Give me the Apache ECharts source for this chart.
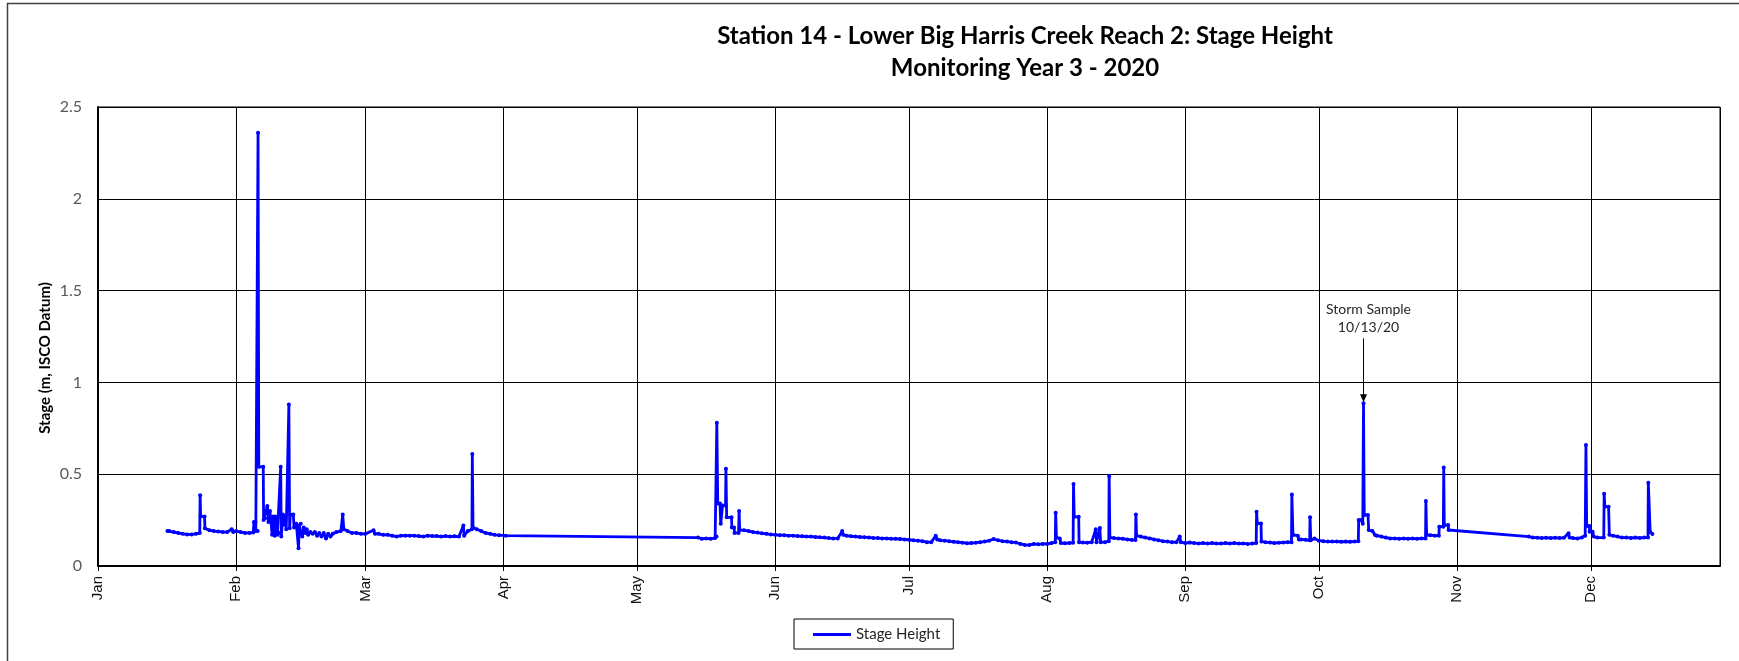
<!DOCTYPE html>
<html>
<head>
<meta charset="utf-8">
<script src="https://cdn.jsdelivr.net/npm/echarts@6/dist/echarts.min.js"></script>
<style>
  html, body { margin: 0; padding: 0; background: #fff; }
  #chart { width: 1739px; height: 661px; }
</style>
</head>
<body>
<div id="chart"></div>
<script>
// ---------- data (stage height, m) ----------
const monthNames = ['Jan','Feb','Mar','Apr','May','Jun','Jul','Aug','Sep','Oct','Nov','Dec'];
const yTicks = [0, 0.5, 1, 1.5, 2, 2.5];

const stageJan = [
  ['2020-01-16 14:00',0.19],['2020-01-17',0.19],['2020-01-18',0.185],['2020-01-19',0.18],
  ['2020-01-20',0.175],['2020-01-21',0.172],['2020-01-22',0.172],['2020-01-23',0.175],
  ['2020-01-23 20:00',0.18],['2020-01-23 22:00',0.385],['2020-01-24 01:00',0.27],['2020-01-24 22:00',0.27],
  ['2020-01-25 00:00',0.205],['2020-01-26',0.195],['2020-01-27',0.19],['2020-01-28',0.188],
  ['2020-01-29',0.185],['2020-01-30',0.185],['2020-01-31 00:00',0.2],['2020-01-31 08:00',0.185]
];
const stageFeb = [
  ['2020-02-01',0.19],['2020-02-02',0.185],['2020-02-03',0.18],['2020-02-04',0.18],
  ['2020-02-04 20:00',0.182],['2020-02-05 00:00',0.24],['2020-02-05 08:00',0.24],['2020-02-05 10:00',0.19],
  ['2020-02-05 20:00',0.19],['2020-02-05 22:00',2.36],['2020-02-06 02:00',0.54],['2020-02-07 02:00',0.54],
  ['2020-02-07 04:00',0.25],['2020-02-07 12:00',0.26],['2020-02-08 00:00',0.327],['2020-02-08 06:00',0.24],
  ['2020-02-08 14:00',0.3],['2020-02-09 02:00',0.17],['2020-02-09 08:00',0.27],['2020-02-09 16:00',0.165],
  ['2020-02-09 20:00',0.27],['2020-02-10 06:00',0.17],['2020-02-10 16:00',0.18],['2020-02-11 00:00',0.54],
  ['2020-02-11 03:00',0.16],['2020-02-11 12:00',0.28],['2020-02-11 18:00',0.225],['2020-02-12 00:00',0.27],
  ['2020-02-12 06:00',0.2],['2020-02-12 20:00',0.88],['2020-02-13 00:00',0.205],['2020-02-13 04:00',0.28],
  ['2020-02-13 20:00',0.28],['2020-02-14 00:00',0.21],['2020-02-14 12:00',0.23],['2020-02-15 00:00',0.096],
  ['2020-02-15 04:00',0.22],['2020-02-15 12:00',0.23],['2020-02-15 20:00',0.16],['2020-02-16 04:00',0.21],
  ['2020-02-16 12:00',0.18],['2020-02-16 20:00',0.2],['2020-02-17 04:00',0.17],['2020-02-17 16:00',0.185],
  ['2020-02-18 04:00',0.175],['2020-02-18 16:00',0.185],['2020-02-19 04:00',0.165],['2020-02-19 16:00',0.18],
  ['2020-02-20 04:00',0.16],['2020-02-20 16:00',0.18],['2020-02-21 04:00',0.15],['2020-02-21 16:00',0.175],
  ['2020-02-22 04:00',0.16],['2020-02-22 16:00',0.175],['2020-02-23 12:00',0.185],['2020-02-24 12:00',0.19],
  ['2020-02-24 22:00',0.28],['2020-02-25 04:00',0.2],['2020-02-26',0.19],['2020-02-27',0.18],
  ['2020-02-28',0.18],['2020-02-29',0.175]
];
const stageMar = [
  ['2020-03-01',0.175],['2020-03-02 20:00',0.195],['2020-03-03 04:00',0.175],['2020-03-04',0.175],
  ['2020-03-05',0.17],['2020-03-06',0.17],['2020-03-07',0.165],['2020-03-08',0.16],['2020-03-09',0.165],
  ['2020-03-10',0.165],['2020-03-11',0.165],['2020-03-12',0.165],['2020-03-13',0.163],['2020-03-14',0.16],
  ['2020-03-15',0.165],['2020-03-16',0.163],['2020-03-17',0.163],['2020-03-18',0.16],['2020-03-19',0.163],
  ['2020-03-20',0.16],['2020-03-21',0.162],['2020-03-22',0.16],['2020-03-23 00:00',0.22],['2020-03-23 04:00',0.165],
  ['2020-03-24',0.19],['2020-03-24 22:00',0.2],['2020-03-25 00:00',0.61],['2020-03-25 04:00',0.21],
  ['2020-03-26',0.2],['2020-03-27',0.19],['2020-03-28',0.18],['2020-03-29',0.175],['2020-03-30',0.17],
  ['2020-03-31',0.168],['2020-04-01 12:00',0.165]
];
const stageMay = [
  ['2020-05-14 16:00',0.155],['2020-05-15 12:00',0.148],['2020-05-16 12:00',0.15],['2020-05-17 12:00',0.148],
  ['2020-05-18 12:00',0.152],['2020-05-18 19:00',0.16],['2020-05-18 21:00',0.78],['2020-05-19 02:00',0.34],
  ['2020-05-19 14:00',0.34],['2020-05-19 18:00',0.23],['2020-05-20 04:00',0.33],['2020-05-20 20:00',0.33],
  ['2020-05-20 22:00',0.53],['2020-05-21 02:00',0.265],['2020-05-22 04:00',0.265],['2020-05-22 06:00',0.21],
  ['2020-05-22 18:00',0.21],['2020-05-22 20:00',0.18],['2020-05-23 18:00',0.18],['2020-05-23 21:00',0.3],
  ['2020-05-24 00:00',0.196],['2020-05-25',0.195],['2020-05-26',0.19],['2020-05-27',0.185],
  ['2020-05-28',0.182],['2020-05-29',0.178],['2020-05-30',0.175],['2020-05-31',0.172]
];
const stageJun = [
  ['2020-06-01',0.17],['2020-06-02',0.168],['2020-06-03',0.168],['2020-06-04',0.165],['2020-06-05',0.165],
  ['2020-06-06',0.163],['2020-06-07',0.162],['2020-06-08',0.16],['2020-06-09',0.16],['2020-06-10',0.158],
  ['2020-06-11',0.156],['2020-06-12',0.155],['2020-06-13',0.152],['2020-06-14',0.15],['2020-06-15',0.15],
  ['2020-06-16 00:00',0.19],['2020-06-16 06:00',0.17],['2020-06-17',0.165],['2020-06-18',0.162],
  ['2020-06-19',0.16],['2020-06-20',0.158],['2020-06-21',0.157],['2020-06-22',0.155],['2020-06-23',0.153],
  ['2020-06-24',0.152],['2020-06-25',0.15],['2020-06-26',0.15],['2020-06-27',0.148],['2020-06-28',0.148],
  ['2020-06-29',0.147],['2020-06-30',0.145]
];
const stageJul = [
  ['2020-07-01',0.143],['2020-07-02',0.14],['2020-07-03',0.138],['2020-07-04',0.135],['2020-07-05',0.13],
  ['2020-07-06',0.13],['2020-07-07 00:00',0.165],['2020-07-07 08:00',0.145],['2020-07-08',0.14],
  ['2020-07-09',0.138],['2020-07-10',0.135],['2020-07-11',0.132],['2020-07-12',0.13],['2020-07-13',0.127],
  ['2020-07-14',0.124],['2020-07-15',0.125],['2020-07-16',0.127],['2020-07-17',0.13],['2020-07-18',0.133],
  ['2020-07-19',0.138],['2020-07-20',0.147],['2020-07-21',0.14],['2020-07-22',0.135],['2020-07-23',0.133],
  ['2020-07-24',0.13],['2020-07-25',0.128],['2020-07-26',0.12],['2020-07-27',0.115],['2020-07-28',0.114],
  ['2020-07-29',0.12],['2020-07-30',0.118],['2020-07-31',0.12]
];
const stageAug = [
  ['2020-08-01',0.12],['2020-08-02',0.125],['2020-08-02 20:00',0.13],['2020-08-02 22:00',0.29],
  ['2020-08-03 02:00',0.155],['2020-08-03 20:00',0.15],['2020-08-04 02:00',0.125],['2020-08-05',0.124],
  ['2020-08-06',0.125],['2020-08-06 20:00',0.127],['2020-08-06 22:00',0.447],['2020-08-07 02:00',0.268],
  ['2020-08-08 02:00',0.268],['2020-08-08 04:00',0.13],['2020-08-09',0.128],['2020-08-10',0.127],
  ['2020-08-11',0.13],['2020-08-11 22:00',0.2],['2020-08-12 02:00',0.13],['2020-08-12 20:00',0.207],
  ['2020-08-13 00:00',0.13],['2020-08-14',0.13],['2020-08-14 20:00',0.135],['2020-08-14 22:00',0.49],
  ['2020-08-15 02:00',0.155],['2020-08-16',0.152],['2020-08-17',0.15],['2020-08-18',0.148],
  ['2020-08-19',0.145],['2020-08-20',0.142],['2020-08-20 20:00',0.142],['2020-08-20 22:00',0.28],
  ['2020-08-21 02:00',0.165],['2020-08-22',0.16],['2020-08-23',0.155],['2020-08-24',0.15],
  ['2020-08-25',0.145],['2020-08-26',0.14],['2020-08-27',0.135],['2020-08-28',0.133],['2020-08-29',0.13],
  ['2020-08-30',0.13],['2020-08-30 18:00',0.16],['2020-08-31 00:00',0.13]
];
const stageSep = [
  ['2020-09-01',0.125],['2020-09-02',0.128],['2020-09-03',0.125],['2020-09-04',0.123],['2020-09-05',0.125],
  ['2020-09-06',0.122],['2020-09-07',0.125],['2020-09-08',0.123],['2020-09-09',0.122],['2020-09-10',0.125],
  ['2020-09-11',0.123],['2020-09-12',0.125],['2020-09-13',0.122],['2020-09-14',0.123],['2020-09-15',0.12],
  ['2020-09-16',0.122],['2020-09-16 22:00',0.125],['2020-09-17 00:00',0.296],['2020-09-17 04:00',0.232],
  ['2020-09-18 00:00',0.232],['2020-09-18 02:00',0.133],['2020-09-19',0.13],['2020-09-20',0.128],
  ['2020-09-21',0.125],['2020-09-22',0.127],['2020-09-23',0.128],['2020-09-24',0.13],['2020-09-24 20:00',0.13],
  ['2020-09-24 22:00',0.39],['2020-09-25 04:00',0.169],['2020-09-26 06:00',0.165],['2020-09-26 12:00',0.145],
  ['2020-09-27',0.145],['2020-09-28',0.143],['2020-09-28 22:00',0.14],['2020-09-29 00:00',0.265],
  ['2020-09-29 04:00',0.14],['2020-09-30',0.15]
];
const stageOct = [
  ['2020-10-01',0.138],['2020-10-02',0.135],['2020-10-03',0.133],['2020-10-04',0.133],['2020-10-05',0.133],
  ['2020-10-06',0.132],['2020-10-07',0.133],['2020-10-08',0.132],['2020-10-09',0.133],['2020-10-09 20:00',0.135],
  ['2020-10-09 22:00',0.25],['2020-10-10 12:00',0.25],['2020-10-10 20:00',0.23],['2020-10-11 00:00',0.886],
  ['2020-10-11 04:00',0.278],['2020-10-12 00:00',0.278],['2020-10-12 04:00',0.196],['2020-10-13',0.19],
  ['2020-10-13 14:00',0.169],['2020-10-14',0.165],['2020-10-15',0.16],['2020-10-16',0.155],['2020-10-17',0.15],
  ['2020-10-18',0.15],['2020-10-19',0.148],['2020-10-20',0.15],['2020-10-21',0.148],['2020-10-22',0.15],
  ['2020-10-23',0.148],['2020-10-24',0.15],['2020-10-24 22:00',0.15],['2020-10-25 00:00',0.354],
  ['2020-10-25 04:00',0.169],['2020-10-26',0.168],['2020-10-27',0.165],['2020-10-27 22:00',0.165],
  ['2020-10-28 00:00',0.214],['2020-10-28 22:00',0.214],['2020-10-29 00:00',0.537],['2020-10-29 03:00',0.223],
  ['2020-10-30 00:00',0.223],['2020-10-30 02:00',0.196]
];
const stageNov = [
  ['2020-11-17 02:00',0.16],['2020-11-18',0.155],['2020-11-19',0.154],['2020-11-20',0.152],['2020-11-21',0.154],
  ['2020-11-22',0.152],['2020-11-23',0.154],['2020-11-24',0.152],['2020-11-25',0.154],['2020-11-26 00:00',0.178],
  ['2020-11-26 06:00',0.155],['2020-11-27',0.152],['2020-11-28',0.15],['2020-11-29',0.155],
  ['2020-11-29 18:00',0.165],['2020-11-29 22:00',0.659],['2020-11-30 02:00',0.218],['2020-11-30 16:00',0.218],
  ['2020-11-30 18:00',0.187]
];
const stageDec = [
  ['2020-12-01 10:00',0.187],['2020-12-01 16:00',0.16],['2020-12-02 12:00',0.155],['2020-12-03 22:00',0.155],
  ['2020-12-04 00:00',0.394],['2020-12-04 04:00',0.323],['2020-12-05 00:00',0.323],['2020-12-05 04:00',0.17],
  ['2020-12-06',0.165],['2020-12-07',0.16],['2020-12-08',0.155],['2020-12-09',0.155],['2020-12-10',0.153],
  ['2020-12-11',0.155],['2020-12-12',0.153],['2020-12-13',0.155],['2020-12-13 20:00',0.155],
  ['2020-12-13 22:00',0.454],['2020-12-14 08:00',0.185],['2020-12-14 20:00',0.174]
];

const stormSample = { time: '2020-10-11 00:00', arrowFrom: 1.24, arrowTo: 0.913, label: 'Storm Sample\n10/13/20' };

const stageAll = [].concat(stageJan, stageFeb, stageMar, stageMay, stageJun, stageJul,
                           stageAug, stageSep, stageOct, stageNov, stageDec);

// ---------- chart ----------
const chart = echarts.init(document.getElementById('chart'));
const DAY = 86400000;
chart.setOption({
  animation: false,
  backgroundColor: '#ffffff',
  title: {
    text: 'Station 14 - Lower Big Harris Creek Reach 2: Stage Height\nMonitoring Year 3 - 2020',
    left: 1025, top: 20, padding: 0, textAlign: 'center',
    textStyle: { fontFamily: 'Lato', fontWeight: 'bold', fontSize: 24, lineHeight: 32, color: '#000' }
  },
  legend: {
    left: 794, top: 619,
    padding: [8, 13, 7, 19],
    borderColor: '#000', borderWidth: 1,
    icon: 'rect', itemWidth: 38, itemHeight: 3,
    textStyle: { fontFamily: 'Lato', fontSize: 15, color: '#262626' },
    data: ['Stage Height']
  },
  grid: {
    left: 98, right: 19, top: 107, bottom: 95,
    show: true, borderColor: '#000', borderWidth: 1
  },
  xAxis: {
    type: 'time',
    min: new Date(2020, 0, 1).getTime(),
    max: new Date(2020, 11, 30).getTime(),
    minInterval: 28 * DAY,
    maxInterval: 31 * DAY,
    splitNumber: 12,
    axisLine: { show: true, lineStyle: { color: '#000', width: 2 } },
    axisTick: { show: true, length: 5, lineStyle: { color: '#000', width: 1 } },
    splitLine: { show: true, lineStyle: { color: '#000', width: 1 } },
    axisLabel: {
      rotate: 90, margin: 10,
      fontFamily: 'Liberation Sans', fontSize: 15, color: '#111',
      showMinLabel: true, showMaxLabel: false,
      formatter: function (v) { return monthNames[new Date(v).getMonth()]; }
    }
  },
  yAxis: {
    type: 'value', min: yTicks[0], max: yTicks[yTicks.length - 1], interval: 0.5,
    axisLine: { show: true, lineStyle: { color: '#000', width: 2 } },
    axisTick: { show: false },
    splitLine: { show: true, lineStyle: { color: '#000', width: 1 } },
    axisLabel: { margin: 16, fontFamily: 'Lato', fontSize: 16, color: '#595959' }
  },
  graphic: [
    { type: 'rect', silent: true, z: -1,
      shape: { x: 7.5, y: 3.5, width: 1800, height: 700 },
      style: { fill: 'none', stroke: '#404040', lineWidth: 1.5 } },
    { type: 'text', x: 45, y: 358, rotation: Math.PI / 2,
      style: { text: 'Stage (m, ISCO Datum)', align: 'center', verticalAlign: 'middle',
               font: 'bold 15px Lato', fill: '#000' } }
  ],
  series: [{
    name: 'Stage Height',
    type: 'line',
    data: stageAll,
    showSymbol: true, showAllSymbol: true,
    symbol: 'circle', symbolSize: 4,
    itemStyle: { color: '#0000ff' },
    lineStyle: { color: '#0000ff', width: 2.8 },
    emphasis: { disabled: true },
    markLine: {
      silent: true,
      symbol: ['none', 'triangle'],
      symbolSize: [7, 8],
      lineStyle: { color: '#000', width: 1, type: 'solid' },
      label: {
        show: true, position: 'start', distance: 2,
        padding: [0, 0, 0, 10],
        formatter: stormSample.label,
        fontFamily: 'Lato', fontSize: 14, lineHeight: 18, color: '#262626'
      },
      data: [[
        { coord: [stormSample.time, stormSample.arrowFrom] },
        { coord: [stormSample.time, stormSample.arrowTo] }
      ]]
    }
  }]
});
</script>
</body>
</html>
